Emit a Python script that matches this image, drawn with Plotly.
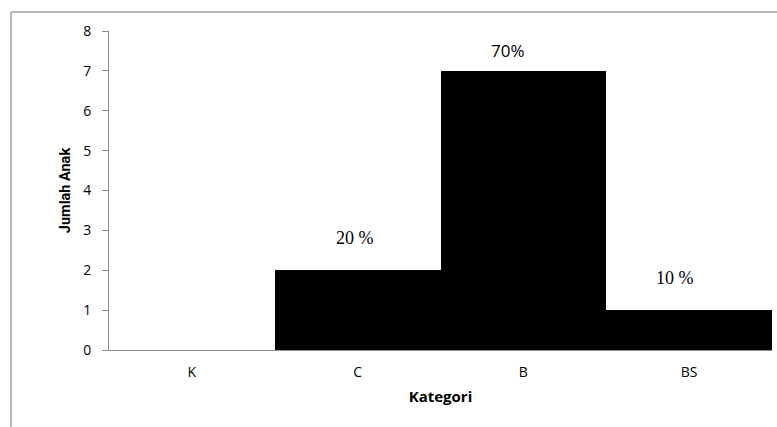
import plotly.graph_objects as go

# Jumlah anak per kategori
categories = ["K", "C", "B", "BS"]
counts = [0, 2, 7, 1]
percent_labels = ["", "20 %", "70%", "10 %"]
label_heights = [0, 2.8, 7.52, 1.8]
label_fonts = ["Liberation Serif", "Liberation Serif", "Open Sans", "Liberation Serif"]
label_sizes = [18, 18, 17, 18]
label_xshift = [0, -3, -15, -14]

W, H = 777, 427
ml, mr, mt, mb = 109, 5, 31, 77
pw, ph = W - ml - mr, H - mt - mb

fig = go.Figure(go.Bar(
    x=categories, y=counts,
    marker=dict(color="black", line=dict(width=0)),
))

for cat, txt, yv, fnt, fs, dx in zip(categories, percent_labels, label_heights,
                                     label_fonts, label_sizes, label_xshift):
    if txt:
        fig.add_annotation(x=cat, y=yv, text=txt, showarrow=False, xshift=dx,
                           font=dict(family=fnt, size=fs, color="black"))

# outer frame (left and top edges)
def px(x):
    return (x - ml) / pw

def py(y):
    return (H - mb - y) / ph

fig.add_shape(type="line", xref="paper", yref="paper",
              x0=px(11), x1=px(11), y0=py(12), y1=py(H + 2),
              line=dict(color="#a0a0a0", width=1.5))
fig.add_shape(type="line", xref="paper", yref="paper",
              x0=px(11), x1=px(W + 2), y0=py(12), y1=py(12),
              line=dict(color="#a0a0a0", width=1.5))

fig.update_layout(
    width=W, height=H,
    margin=dict(l=ml, r=mr, t=mt, b=mb),
    paper_bgcolor="white", plot_bgcolor="white",
    bargap=0, showlegend=False,
    font=dict(family="Open Sans", color="black"),
)
fig.update_xaxes(
    showline=True, linecolor="#8c8c8c", linewidth=1,
    ticks="", tickfont=dict(size=14, color="black"), ticklabelstandoff=9,
    title=dict(text="<b>Kategori</b>", font=dict(size=15, color="black"), standoff=11),
    showgrid=False,
)
fig.update_yaxes(
    range=[0, 8], dtick=1, showline=True, linecolor="#8c8c8c", linewidth=1,
    ticks="outside", ticklen=6, tickcolor="#8c8c8c", ticklabelstandoff=8,
    tickfont=dict(size=14, color="black"), showgrid=False, zeroline=False,
    title=dict(text="<b>Jumlah Anak</b>", font=dict(family="Liberation Sans Narrow, Roboto", size=14.5, color="black"), standoff=9),
)

fig.write_html("out.html")
